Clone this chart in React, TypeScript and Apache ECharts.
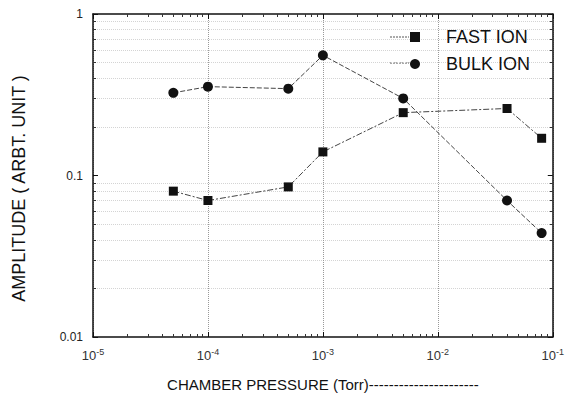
import React, { useEffect, useRef } from "react";
import * as echarts from "echarts";

const pressure = [5e-5, 1e-4, 5e-4, 1e-3, 5e-3, 4e-2, 8e-2];
const fastIon = [0.08, 0.07, 0.085, 0.14, 0.245, 0.26, 0.17];
const bulkIon = [0.325, 0.355, 0.345, 0.555, 0.3, 0.07, 0.044];
const seriesNames = ["FAST ION", "BULK ION"];
const xTitle = "CHAMBER PRESSURE (Torr)----------------------";
const yTitle = "AMPLITUDE ( ARBT. UNIT )";

export default function App() {
  const ref = useRef<HTMLDivElement>(null);
  useEffect(() => {
    if (!ref.current) return;
    const chart = echarts.init(ref.current, null, { renderer: "svg" });
    const font = "Liberation Sans, Arial, sans-serif";
    const axisCommon = {
      axisLine: { show: true, lineStyle: { color: "#111", width: 1.5 } },
      axisTick: { show: true, inside: true, length: 5, lineStyle: { color: "#111" } },
      minorTick: { show: true, splitNumber: 9, length: 3, lineStyle: { color: "#333" } },
    };
    chart.setOption({
      animation: false,
      backgroundColor: "#ffffff",
      grid: { left: 93, right: 10, top: 14, bottom: 62, containLabel: false },
      legend: {
        top: 23,
        left: 405,
        orient: "vertical",
        itemWidth: 10,
        itemHeight: 10,
        itemGap: 9,
        textStyle: { fontFamily: font, fontSize: 18, color: "#111", padding: [0, 0, 0, 21] },
        data: [
          { name: seriesNames[0], icon: "rect" },
          { name: seriesNames[1], icon: "circle" },
        ],
      },
      graphic: [
        { type: "line", shape: { x1: 390, y1: 37, x2: 409, y2: 37 }, style: { stroke: "#555", lineDash: [2, 1], lineWidth: 1 } },
        { type: "line", shape: { x1: 390, y1: 63, x2: 409, y2: 63 }, style: { stroke: "#555", lineDash: [2, 1], lineWidth: 1 } },
      ],
      xAxis: [
        {
          type: "log",
          logBase: 10,
          min: 1e-5,
          max: 1e-1,
          name: xTitle,
          nameLocation: "middle",
          nameGap: 40,
          nameTextStyle: { fontFamily: font, fontSize: 15, color: "#111" },
          ...axisCommon,
          axisLabel: {
            fontFamily: font,
            fontSize: 13,
            color: "#333",
            margin: 10,
            formatter: (v: number) => "10{s|" + Math.round(Math.log10(v)) + "}",
            rich: { s: { fontSize: 9, verticalAlign: "top", padding: [0, 0, 7, 0], fontFamily: font, color: "#333" } },
          },
          splitLine: { show: true, lineStyle: { color: "#999", type: "dotted", width: 1 } },
        },
        {
          type: "log",
          logBase: 10,
          min: 1e-5,
          max: 1e-1,
          position: "top",
          ...axisCommon,
          axisLabel: { show: false },
          splitLine: { show: false },
        },
      ],
      yAxis: [
        {
          type: "log",
          logBase: 10,
          min: 0.01,
          max: 1,
          name: yTitle,
          nameLocation: "middle",
          nameGap: 65,
          nameTextStyle: { fontFamily: font, fontSize: 18, color: "#111", padding: [0, 26, 0, 0] },
          ...axisCommon,
          axisLabel: {
            fontFamily: font,
            fontSize: 12,
            color: "#222",
            margin: 10,
            formatter: (v: number) => String(Number(v.toPrecision(2))),
          },
          splitLine: { show: false },
          minorSplitLine: { show: true, lineStyle: { color: "#d4d4d4", type: "dotted", width: 1 } },
        },
        {
          type: "log",
          logBase: 10,
          min: 0.01,
          max: 1,
          position: "right",
          ...axisCommon,
          axisLabel: { show: false },
          splitLine: { show: false },
        },
      ],
      series: [
        {
          name: seriesNames[0],
          type: "line",
          data: pressure.map((p, i) => [p, fastIon[i]]),
          symbol: "rect",
          symbolSize: 9,
          itemStyle: { color: "#111" },
          lineStyle: { color: "#444", width: 1, type: [6, 2, 2, 2] },
        },
        {
          name: seriesNames[1],
          type: "line",
          data: pressure.map((p, i) => [p, bulkIon[i]]),
          symbol: "circle",
          symbolSize: 10,
          itemStyle: { color: "#111" },
          lineStyle: { color: "#444", width: 1, type: [5, 2] },
        },
      ],
    });
    return () => chart.dispose();
  }, []);
  return <div ref={ref} style={{ width: 567, height: 399, position: "absolute", left: 0, top: 0 }} />;
}
